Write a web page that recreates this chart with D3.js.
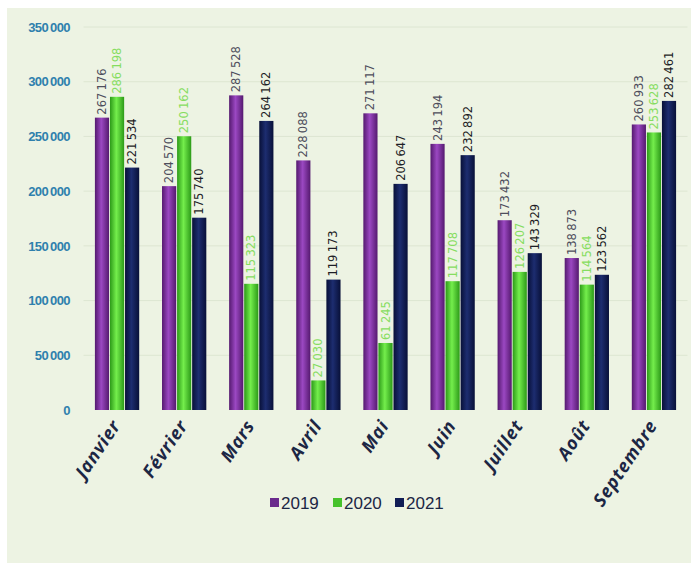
<!DOCTYPE html>
<html>
<head>
<meta charset="utf-8">
<script src="https://cdn.jsdelivr.net/npm/d3@7"></script>
<style>
  html, body { margin: 0; padding: 0; background: #ffffff; }
  svg { display: block; }
</style>
</head>
<body>
<svg id="chart" width="697" height="572"></svg>
<script>
// Monthly totals, January to September, for three years
const months = ["Janvier", "Février", "Mars", "Avril", "Mai", "Juin", "Juillet", "Août", "Septembre"];
const years = ["2019", "2020", "2021"];
const values2019 = [267176, 204570, 287528, 228088, 271117, 243194, 173432, 138873, 260933];
const values2020 = [286198, 250162, 115323, 27030, 61245, 117708, 126207, 114564, 253628];
const values2021 = [221534, 175740, 264162, 119173, 206647, 232892, 143329, 123562, 282461];
const yTicks = [0, 50000, 100000, 150000, 200000, 250000, 300000, 350000];

const seriesValues = { "2019": values2019, "2020": values2020, "2021": values2021 };

const svg = d3.select("#chart");
const W = 697, H = 572;

// Frame / panel background
svg.append("rect").attr("x", 0).attr("y", 0).attr("width", W).attr("height", H).attr("fill", "#ffffff");
svg.append("rect").attr("x", 7).attr("y", 8).attr("width", 684).attr("height", 555).attr("fill", "#edf3e3");

const plot = { left: 83.5, right: 687.5, top: 27, bottom: 410 };

const x = d3.scaleBand().domain(months).range([plot.left, plot.right]).paddingInner(0.34).paddingOuter(0.17);
const xs = d3.scaleBand().domain(years).range([0, x.bandwidth()]).paddingInner(0.06);
const y = d3.scaleLinear().domain([0, 350000]).range([plot.bottom, plot.top]);

// Cylinder-style shading per series
const palette = {
  "2019": { edge: "#55196f", mid: "#9b48c2", label: "#4e4e5c", swatch: "#6a2a8c" },
  "2020": { edge: "#2c9a18", mid: "#74ee4c", label: "#86dd60", swatch: "#47c22c" },
  "2021": { edge: "#081038", mid: "#1d2d70", label: "#1e1e26", swatch: "#111d55" }
};
const defs = svg.append("defs");
years.forEach(yr => {
  const g = defs.append("linearGradient").attr("id", "grad" + yr)
    .attr("x1", "0%").attr("x2", "100%").attr("y1", "0%").attr("y2", "0%");
  g.append("stop").attr("offset", "0%").attr("stop-color", palette[yr].edge);
  g.append("stop").attr("offset", "45%").attr("stop-color", palette[yr].mid);
  g.append("stop").attr("offset", "100%").attr("stop-color", palette[yr].edge);
});

// Gridlines
svg.append("g")
  .selectAll("line")
  .data(yTicks.slice(1))
  .join("line")
  .attr("x1", plot.left).attr("x2", plot.right)
  .attr("y1", d => y(d)).attr("y2", d => y(d))
  .attr("stroke", "#dde6d2").attr("stroke-width", 1);

// Y axis labels
const fmt = d => d3.format(",")(d).replace(/,/g, "\u2009");
const yAxis = d3.axisLeft(y).tickValues(yTicks).tickFormat(fmt).tickSize(0).tickPadding(0);
const yg = svg.append("g").attr("transform", `translate(${70},0)`).call(yAxis);
yg.select(".domain").remove();
yg.selectAll("text")
  .attr("fill", "#2f80ad")
  .attr("font-family", "'Liberation Sans', Arial, sans-serif")
  .attr("font-size", 13)
  .attr("font-weight", "bold")
  .attr("letter-spacing", "-0.6");

// Bars and value labels
const rows = months.map((m, i) => ({ month: m, vals: years.map(yr => ({ year: yr, value: seriesValues[yr][i] })) }));
const groups = svg.append("g").selectAll("g").data(rows).join("g")
  .attr("transform", d => `translate(${x(d.month)},0)`);

groups.selectAll("rect").data(d => d.vals).join("rect")
  .attr("x", d => xs(d.year))
  .attr("y", d => y(d.value))
  .attr("width", xs.bandwidth())
  .attr("height", d => y(0) - y(d.value))
  .attr("fill", d => `url(#grad${d.year})`);

groups.selectAll("text").data(d => d.vals).join("text")
  .attr("transform", d => `translate(${xs(d.year) + xs.bandwidth() / 2},${y(d.value) - 3}) rotate(-90)`)
  .attr("dy", "0.35em")
  .attr("text-anchor", "start")
  .attr("font-family", "'DejaVu Sans', sans-serif")
  .attr("font-size", 11.5)
  .attr("fill", d => palette[d.year].label)
  .text(d => fmt(d.value));

// X axis labels
const xAxis = d3.axisBottom(x).tickSize(0).tickPadding(0);
const xg = svg.append("g").attr("transform", `translate(0,${plot.bottom})`).call(xAxis);
xg.select(".domain").remove();
xg.selectAll("text")
  .attr("transform", "translate(-1,12) rotate(-56)")
  .attr("dy", "0.35em")
  .attr("text-anchor", "end")
  .attr("font-family", "'Open Sans', 'Liberation Sans', sans-serif")
  .attr("font-style", "italic")
  .attr("font-weight", "bold")
  .attr("font-size", 18)
  .attr("letter-spacing", "0.8")
  .attr("fill", "#1c2644");

// Legend
const legend = svg.append("g").attr("transform", "translate(270,503)");
const legendX = d3.scaleOrdinal().domain(years).range([0, 63, 125]);
const li = legend.selectAll("g").data(years).join("g")
  .attr("transform", d => `translate(${legendX(d)},0)`);
li.append("rect").attr("x", 0).attr("y", -5).attr("width", 9).attr("height", 9)
  .attr("fill", d => palette[d].swatch);
li.append("text").attr("x", 11).attr("y", 0).attr("dy", "0.35em")
  .attr("font-family", "'Liberation Sans Narrow', 'Liberation Sans', Arial, sans-serif")
  .attr("font-size", 17)
  .attr("fill", "#1c2644")
  .text(d => d);
</script>
</body>
</html>
